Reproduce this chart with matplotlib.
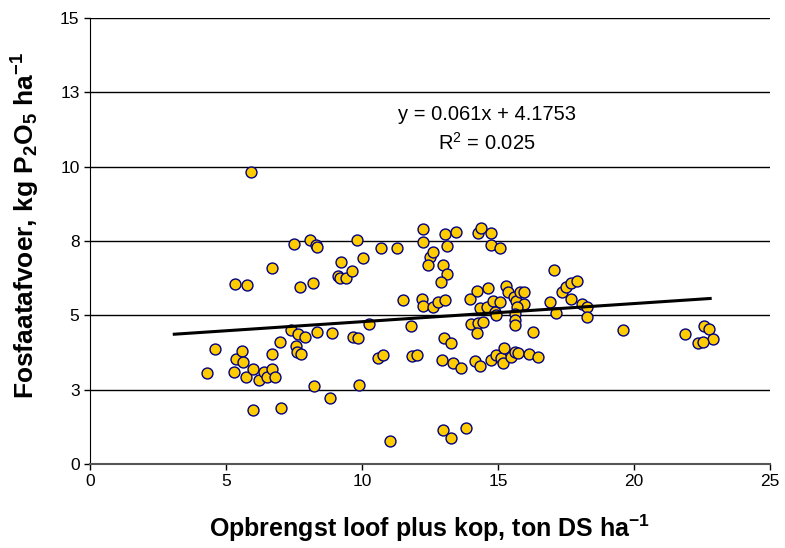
import matplotlib.pyplot as plt
import numpy as np

plt.rcParams['font.family'] = ['Liberation Sans', 'DejaVu Sans']
plt.rcParams['mathtext.fontset'] = 'custom'
plt.rcParams['mathtext.rm'] = 'Liberation Sans'
plt.rcParams['mathtext.it'] = 'Liberation Sans'
plt.rcParams['mathtext.bf'] = 'Liberation Sans:bold'

# yield of tops (ton DS/ha) vs phosphate removal (kg P2O5/ha)
opbrengst = [5.93, 4.61, 4.32, 5.28, 5.38, 5.58, 5.62, 5.34, 5.79, 6.01,
             7.03, 6.70, 7.50, 8.10, 8.31, 8.36, 7.72, 8.19, 9.23, 9.13,
             9.19, 9.41, 9.65, 5.74, 6.00, 6.22, 6.38, 6.50, 6.69, 6.81,
             6.71, 6.99, 7.39, 7.64, 7.91, 8.35, 7.58, 7.60, 7.76, 8.25,
             9.80, 10.69, 11.28, 12.25, 12.23, 12.50, 12.43, 12.62, 10.03, 11.50,
             12.21, 12.26, 12.62, 12.80, 13.05, 8.89, 9.66, 9.87, 10.26, 11.80,
             10.58, 10.76, 11.85, 12.04, 8.84, 9.89, 11.04, 13.07, 13.47, 14.27,
             14.37, 14.73, 13.13, 14.76, 15.07, 12.98, 13.14, 12.90, 13.96, 14.23,
             14.63, 14.33, 14.58, 14.82, 15.06, 14.88, 14.94, 15.31, 15.37, 15.58,
             15.65, 15.80, 15.96, 15.96, 15.71, 15.64, 15.64, 15.64, 14.02, 14.27,
             14.45, 14.24, 16.29, 13.01, 13.29, 12.95, 13.35, 13.63, 14.17, 14.33,
             14.73, 14.94, 15.10, 15.22, 15.20, 15.47, 15.64, 15.74, 16.14, 16.47,
             12.98, 13.29, 13.81, 17.06, 17.35, 17.51, 17.67, 17.92, 17.70, 16.90,
             17.14, 18.08, 18.28, 18.27, 19.59, 21.89, 22.56, 22.77, 22.89, 22.34,
             22.52]
fosfaat = [9.81, 3.88, 3.05, 3.09, 3.53, 3.80, 3.43, 6.06, 6.01, 1.80,
           1.87, 6.58, 7.39, 7.52, 7.37, 7.30, 5.96, 6.08, 6.78, 6.33,
           6.25, 6.25, 6.50, 2.94, 3.20, 2.82, 3.10, 2.94, 3.20, 2.94,
           3.70, 4.11, 4.51, 4.37, 4.28, 4.44, 3.98, 3.78, 3.70, 2.61,
           7.53, 7.25, 7.26, 7.91, 7.48, 6.97, 6.69, 7.14, 6.93, 5.52,
           5.54, 5.32, 5.29, 5.46, 5.52, 4.42, 4.26, 4.23, 4.70, 4.64,
           3.55, 3.68, 3.62, 3.67, 2.21, 2.65, 0.77, 7.73, 7.81, 7.78,
           7.93, 7.78, 7.33, 7.37, 7.27, 6.69, 6.39, 6.11, 5.55, 5.83,
           5.93, 5.24, 5.27, 5.49, 5.46, 5.12, 5.01, 5.99, 5.78, 5.63,
           5.49, 5.80, 5.80, 5.38, 5.27, 5.04, 4.84, 4.68, 4.71, 4.73,
           4.79, 4.40, 4.45, 4.25, 4.08, 3.50, 3.41, 3.22, 3.46, 3.31,
           3.50, 3.67, 3.56, 3.89, 3.41, 3.61, 3.78, 3.72, 3.70, 3.59,
           1.14, 0.86, 1.22, 6.53, 5.80, 5.96, 6.10, 6.15, 5.54, 5.45,
           5.09, 5.37, 5.27, 4.95, 4.50, 4.37, 4.65, 4.53, 4.20, 4.08,
           4.11]

# trendline as printed on the chart
slope = 0.061
intercept = 4.1753
trend_range = [3.1, 22.8]

xticks = [0, 5, 10, 15, 20, 25]
yticks = [0, 2.5, 5, 7.5, 10, 12.5, 15]
ytick_labels = ['0', '3', '5', '8', '10', '13', '15']

fig = plt.figure(figsize=(7.85, 5.48), dpi=100)
ax = fig.add_axes([0.1146, 0.1533, 0.8663, 0.8139])

for yv in yticks[1:]:
    ax.axhline(yv, color='black', linewidth=1.0, zorder=1)

ax.scatter(opbrengst, fosfaat, s=62, facecolor='#FFCC00', edgecolor='#000080',
           linewidth=1.0, zorder=3)

tx = np.array(trend_range)
ax.plot(tx, slope * tx + intercept, color='black', linewidth=2.2, zorder=4)

ax.text(14.6, 11.75, 'y = 0.061x + 4.1753', ha='center', va='center', fontsize=14.5)
ax.text(14.6, 10.8, 'R$^2$ = 0.025', ha='center', va='center', fontsize=14.5)

ax.set_xlim(0, 25)
ax.set_ylim(0, 15)
ax.set_xticks(xticks)
ax.set_yticks(yticks)
ax.set_yticklabels(ytick_labels)
ax.tick_params(axis='both', direction='out', length=4, width=1, labelsize=12.5,
               colors='black')

ax.spines['right'].set_visible(False)
ax.spines['top'].set_visible(False)
ax.spines['left'].set_color('black')
ax.spines['bottom'].set_color('#555555')
ax.spines['bottom'].set_linewidth(1.5)

ax.set_xlabel('Opbrengst loof plus kop, ton DS ha$^{\\mathbf{-1}}$', fontsize=18,
              fontweight='bold')
ax.set_ylabel('Fosfaatafvoer, kg P$_\\mathbf{2}$O$_\\mathbf{5}$ ha$^{\\mathbf{-1}}$',
              fontsize=19, fontweight='bold')
ax.xaxis.set_label_coords(0.5, -0.11)
ax.yaxis.set_label_coords(-0.07, 0.535)

fig.savefig('out.png', dpi=100)
